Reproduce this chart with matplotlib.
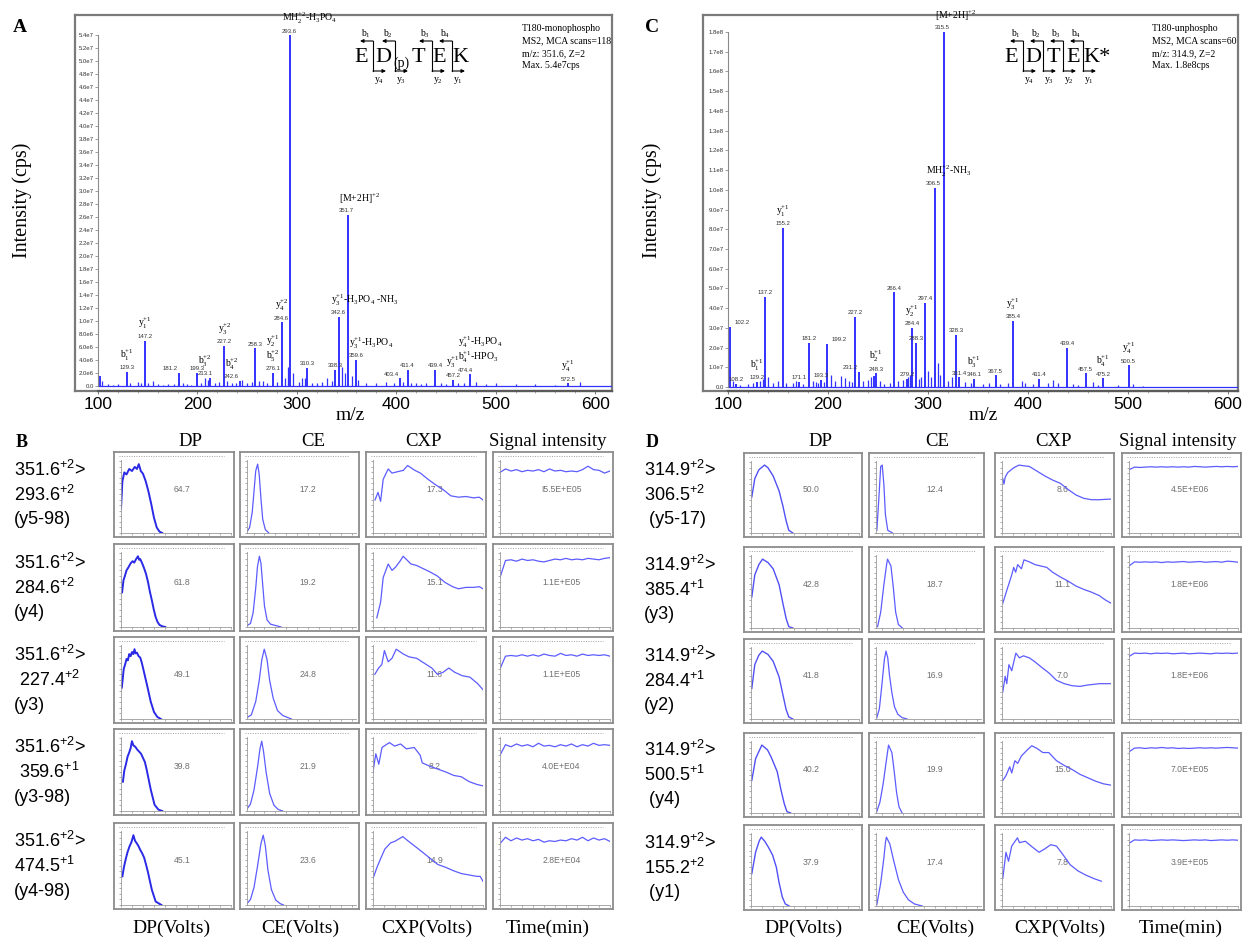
import matplotlib.pyplot as plt
from matplotlib.lines import Line2D
from matplotlib.patches import FancyArrowPatch
from matplotlib.ticker import MultipleLocator, FuncFormatter

W, H = 1242, 940
SERIF = 'Liberation Serif'
SANS = 'Liberation Sans'
PEAK = '#3232ff'

plt.rcParams['font.family'] = SANS
plt.rcParams['mathtext.fontset'] = 'custom'
plt.rcParams['mathtext.rm'] = SANS
plt.rcParams['mathtext.it'] = SANS + ':italic'
plt.rcParams['mathtext.bf'] = SANS + ':bold'
plt.rcParams['mathtext.default'] = 'regular'

# ---- MS2 spectrum of the phosphopeptide (intensity in 1e7 cps) ----
a_mz = [102.0, 129.3, 147.2, 181.2, 199.3, 213.1, 227.2, 242.6, 258.3, 276.1, 284.6, 293.6,
        310.3, 338.3, 342.6, 351.7, 359.6, 403.4, 411.4, 439.4, 457.2, 474.4, 572.5]
a_int = [0.15, 0.22, 0.70, 0.20, 0.20, 0.13, 0.62, 0.08, 0.58, 0.20, 0.98, 5.40,
         0.28, 0.25, 1.06, 2.63, 0.40, 0.12, 0.25, 0.25, 0.10, 0.18, 0.04]
a_num = ['', '129.3', '147.2', '181.2', '199.3', '213.1', '227.2', '242.6', '258.3', '276.1', '284.6', '293.6',
         '310.3', '338.3', '342.6', '351.7', '359.6', '403.4', '411.4', '439.4', '457.2', '474.4', '572.5']
a_ion = ['', 'b$_1^{+1}$', 'y$_1^{+1}$', '', '', 'b$_3^{+2}$', 'y$_3^{+2}$', 'b$_4^{+2}$', '',
         'y$_2^{+1}$\nb$_5^{+2}$', 'y$_4^{+2}$', 'MH$_2^{+2}$-H$_3$PO$_4$', '', '',
         'y$_3^{+1}$-H$_3$PO$_4$ -NH$_3$', '[M+2H]$^{+2}$', 'y$_3^{+1}$-H$_3$PO$_4$', '', '', '',
         'y$_3^{+1}$', 'y$_4^{+1}$-H$_3$PO$_4$\nb$_4^{+1}$-HPO$_3$', 'y$_4^{+1}$']
a_minor_mz = [104, 110, 115, 120, 132, 140, 143, 150, 155, 160, 165, 170, 176, 185, 190, 194, 204,
              208, 211, 218, 222, 230, 235, 239, 245, 250, 255, 262, 266, 270, 280, 288, 291, 296,
              302, 305, 308, 315, 320, 325, 330, 335, 345, 348, 355, 362, 370, 380, 390, 398, 407,
              415, 420, 425, 430, 445, 450, 462, 468, 480, 490, 500, 520, 540, 560, 585]
a_minor_int = [0.08, 0.03, 0.02, 0.03, 0.05, 0.06, 0.04, 0.05, 0.07, 0.03, 0.02, 0.03, 0.03, 0.04,
               0.03, 0.02, 0.04, 0.12, 0.10, 0.05, 0.06, 0.08, 0.04, 0.05, 0.10, 0.05, 0.06, 0.08,
               0.07, 0.05, 0.06, 0.12, 0.30, 0.20, 0.06, 0.12, 0.12, 0.04, 0.05, 0.06, 0.12, 0.08,
               0.30, 0.20, 0.15, 0.10, 0.04, 0.05, 0.06, 0.05, 0.06, 0.05, 0.04, 0.03, 0.05, 0.04,
               0.03, 0.04, 0.05, 0.06, 0.03, 0.04, 0.03, 0.03, 0.02, 0.06]

# ---- MS2 spectrum of the unphosphorylated peptide (intensity in 1e7 cps) ----
c_mz = [102.2, 108.2, 129.2, 137.2, 155.2, 171.1, 181.2, 193.3, 199.2, 227.2, 231.2, 246.2, 248.3,
        266.4, 279.2, 284.4, 288.3, 297.4, 306.5, 315.5, 328.3, 331.4, 346.1, 367.5, 385.4, 411.4,
        439.4, 457.5, 475.2, 500.5]
c_int = [3.05, 0.15, 0.25, 4.57, 8.07, 0.25, 2.23, 0.35, 2.18, 3.55, 0.76, 0.55, 0.70,
         4.80, 0.40, 3.00, 2.23, 4.26, 10.1, 18.0, 2.64, 0.50, 0.40, 0.60, 3.35, 0.40,
         2.00, 0.70, 0.45, 1.10]
c_num = ['102.2', '108.2', '129.2', '137.2', '155.2', '171.1', '181.2', '193.3', '199.2', '227.2',
         '231.2', '', '248.3', '266.4', '279.2', '284.4', '288.3', '297.4', '306.5', '315.5', '328.3',
         '331.4', '346.1', '367.5', '385.4', '411.4', '439.4', '457.5', '475.2', '500.5']
c_ion = ['', '', 'b$_1^{+1}$', '', 'y$_1^{+1}$', '', '', '', '', '', '', '', 'b$_2^{+1}$',
         '', '', 'y$_2^{+1}$', '', '', 'MH$_2^{+2}$-NH$_3$', '[M+2H]$^{+2}$', '', '', 'b$_3^{+1}$',
         '', 'y$_3^{+1}$', '', '', '', 'b$_4^{+1}$', 'y$_4^{+1}$']
c_minor_mz = [105, 112, 120, 125, 132, 135, 140, 145, 150, 158, 165, 168, 175, 185, 188, 190, 196,
              203, 207, 213, 217, 221, 224, 235, 240, 243, 252, 256, 262, 270, 275, 280, 282, 291,
              293, 300, 303, 310, 312, 320, 324, 337, 343, 355, 361, 372, 380, 394, 397, 405, 420,
              425, 430, 445, 450, 465, 470, 490, 505, 515]
c_minor_int = [0.30, 0.10, 0.15, 0.20, 0.30, 0.40, 0.50, 0.20, 0.30, 0.20, 0.20, 0.30, 0.15, 0.30,
               0.25, 0.20, 0.25, 0.60, 0.30, 0.55, 0.45, 0.30, 0.25, 0.30, 0.35, 0.50, 0.30, 0.15,
               0.20, 0.30, 0.35, 0.50, 0.60, 0.40, 0.50, 0.80, 0.50, 1.20, 0.60, 0.30, 0.50, 0.25,
               0.20, 0.15, 0.20, 0.15, 0.20, 0.30, 0.20, 0.15, 0.20, 0.35, 0.20, 0.15, 0.10, 0.25,
               0.10, 0.10, 0.15, 0.05]

# ---- parameter ramps, panel B (phospho transitions) ----
b_rows = [['351.6$^{+2}$>', '293.6$^{+2}$', '(y5-98)'],
          ['351.6$^{+2}$>', '284.6$^{+2}$', '(y4)'],
          ['351.6$^{+2}$>', ' 227.4$^{+2}$', '(y3)'],
          ['351.6$^{+2}$>', ' 359.6$^{+1}$', '(y3-98)'],
          ['351.6$^{+2}$>', '474.5$^{+1}$', '(y4-98)']]
b_dp_opt = [64.7, 61.8, 49.1, 39.8, 45.1]
b_ce_opt = [17.2, 19.2, 24.8, 21.9, 23.6]
b_cxp_opt = [17.3, 15.1, 11.6, 8.2, 14.9]
b_signal = ['I5.5E+E05', '1.1E+E05', '1.1E+E05', '4.0E+E04', '2.8E+E04']

b_dp_x = [[0, 5, 12, 20, 30, 40, 50, 58, 64.7, 72, 80, 90, 100, 110, 120, 130, 140, 150],
          [4, 9, 14, 20, 28, 35, 42, 48, 55, 61.8, 66, 70, 77, 84, 91, 98, 105, 112, 119, 126, 133, 140, 150, 161],
          [3, 10, 15, 20, 25, 30, 35, 40, 45, 49.1, 53, 58, 64, 70, 76, 82, 95, 108, 120, 132, 145],
          [7, 12, 18, 24, 30, 35, 39.8, 45, 52, 59, 66, 73, 80, 87, 94, 108, 122, 136, 150],
          [5, 11, 18, 24, 31, 38, 45.1, 51, 58, 64, 70, 77, 84, 91, 98, 112, 126, 147]]
b_dp_y = [[0.35, 0.75, 0.88, 0.85, 0.93, 0.90, 0.96, 0.93, 1.0, 0.90, 0.86, 0.75, 0.60, 0.42, 0.22, 0.08, 0.02, 0.0],
          [0.49, 0.66, 0.72, 0.80, 0.85, 0.90, 0.93, 0.91, 0.96, 1.0, 0.95, 0.96, 0.90, 0.83, 0.75, 0.64, 0.50,
           0.38, 0.25, 0.14, 0.07, 0.03, 0.01, 0.0],
          [0.45, 0.72, 0.78, 0.86, 0.84, 0.93, 0.90, 0.96, 0.93, 1.0, 0.94, 0.95, 0.90, 0.88, 0.80, 0.70, 0.48,
           0.25, 0.10, 0.03, 0.0],
          [0.42, 0.58, 0.67, 0.78, 0.84, 0.90, 1.0, 0.94, 0.92, 0.88, 0.85, 0.82, 0.76, 0.70, 0.58, 0.31, 0.09,
           0.02, 0.0],
          [0.41, 0.55, 0.67, 0.76, 0.84, 0.90, 1.0, 0.92, 0.88, 0.84, 0.79, 0.74, 0.68, 0.58, 0.47, 0.22, 0.05,
           0.0]]
b_ce_x = [[5, 8, 11, 13, 15, 17.2, 19, 21, 23, 26, 30],
          [5, 9, 12, 15, 17, 19.2, 21, 23, 25, 28, 32, 38, 44],
          [5, 10, 15, 19, 22, 24.8, 28, 31, 35, 40, 46, 52, 56],
          [5, 9, 13, 17, 20, 21.9, 24, 27, 31, 36, 41, 46],
          [5, 9, 13, 17, 21, 23.6, 26, 29, 33, 38, 43, 47]]
b_ce_y = [[0.02, 0.08, 0.30, 0.60, 0.90, 1.0, 0.85, 0.50, 0.20, 0.05, 0.0],
          [0.02, 0.05, 0.20, 0.55, 0.85, 1.0, 0.90, 0.60, 0.30, 0.10, 0.04, 0.02, 0.0],
          [0.02, 0.06, 0.25, 0.55, 0.85, 1.0, 0.85, 0.55, 0.30, 0.12, 0.05, 0.02, 0.0],
          [0.03, 0.10, 0.30, 0.62, 0.90, 1.0, 0.85, 0.55, 0.25, 0.08, 0.02, 0.0],
          [0.02, 0.08, 0.25, 0.55, 0.88, 1.0, 0.85, 0.50, 0.22, 0.07, 0.02, 0.0]]
b_cxp_x = [[1, 2.5, 3.8, 5.1, 7.6, 9.5, 12.3, 15.2, 17.3, 20.9, 23.7, 27.5, 31.3, 35.1, 38.9, 42.7, 46.5, 50.3, 53.1, 55],
           [1.9, 3.8, 5.1, 7.6, 9.5, 11.4, 13.5, 15.1, 19.0, 21.8, 24.7, 28.4, 32.2, 36.0, 39.8, 42.7, 46.5, 50.3, 53.1, 55],
           [0.9, 2.8, 4.4, 5.7, 7.6, 9.5, 11.6, 15.2, 18.0, 21.8, 25.6, 29.4, 32.2, 35.1, 37.9, 40.8, 44.6, 48.4, 52.2, 55],
           [0, 1.4, 2.9, 4.5, 8.2, 10.8, 13.8, 16.7, 20.6, 23.6, 24.6, 28.5, 32.4, 36.3, 40.3, 44.2, 48.1, 52.0, 55],
           [0, 2.0, 3.9, 5.9, 8.8, 10.8, 14.9, 17.0, 18.8, 20.6, 24.6, 28.5, 32.4, 36.3, 40.3, 44.2, 48.1, 52.0, 53.6, 55]]
b_cxp_y = [[0.48, 0.59, 0.46, 0.78, 0.93, 0.87, 0.89, 0.91, 0.98, 0.91, 0.87, 0.78, 0.70, 0.63, 0.54, 0.52, 0.53, 0.51, 0.52, 0.48],
           [0.13, 0.35, 0.70, 0.89, 0.80, 0.85, 0.93, 1.0, 0.89, 0.87, 0.83, 0.78, 0.72, 0.63, 0.57, 0.54, 0.56, 0.56, 0.57, 0.54],
           [0.64, 0.73, 0.78, 0.98, 0.82, 0.87, 1.0, 0.93, 0.89, 0.87, 0.80, 0.73, 0.64, 0.67, 0.73, 0.67, 0.62, 0.60, 0.51, 0.42],
           [0.56, 0.82, 0.67, 0.91, 0.98, 0.93, 0.96, 0.89, 0.91, 0.80, 0.69, 0.64, 0.60, 0.56, 0.51, 0.49, 0.42, 0.38, 0.36],
           [0.38, 0.54, 0.67, 0.80, 0.89, 0.91, 0.98, 0.93, 0.89, 0.85, 0.76, 0.67, 0.58, 0.54, 0.49, 0.45, 0.43, 0.41, 0.41, 0.34]]

sig_t = [0, 0.05, 0.1, 0.15, 0.2, 0.25, 0.3, 0.35, 0.4, 0.45, 0.5, 0.55, 0.6, 0.65, 0.7, 0.75, 0.8, 0.85, 0.9, 0.95, 1.0]
b_sig_y = [[0.88, 0.93, 0.90, 0.92, 0.89, 0.91, 0.90, 0.92, 0.89, 0.93, 0.90, 0.91, 0.89, 0.90, 0.89, 0.92, 0.97, 0.92, 0.91, 0.87, 0.90],
           [0.70, 0.94, 0.95, 0.93, 0.96, 0.94, 0.95, 0.93, 0.92, 0.94, 0.96, 0.95, 0.97, 0.95, 0.96, 0.95, 0.97, 0.96, 0.95, 0.97, 0.98],
           [0.72, 0.90, 0.91, 0.90, 0.92, 0.90, 0.92, 0.90, 0.93, 0.91, 0.90, 0.94, 0.91, 0.92, 0.90, 0.93, 0.91, 0.92, 0.91, 0.92, 0.90],
           [0.80, 0.95, 0.92, 0.96, 0.93, 0.95, 0.92, 0.97, 0.93, 0.94, 0.92, 0.95, 0.93, 0.96, 0.92, 0.95, 0.93, 0.97, 0.94, 0.95, 0.94],
           [0.88, 0.97, 0.92, 0.96, 0.93, 0.95, 0.92, 0.94, 0.90, 0.92, 0.91, 0.93, 0.92, 0.95, 0.93, 0.97, 0.92, 0.96, 0.93, 0.95, 0.91]]

# ---- parameter ramps, panel D (unphospho transitions) ----
d_rows = [['314.9$^{+2}$>', '306.5$^{+2}$', ' (y5-17)'],
          ['314.9$^{+2}$>', '385.4$^{+1}$', '(y3)'],
          ['314.9$^{+2}$>', '284.4$^{+1}$', '(y2)'],
          ['314.9$^{+2}$>', '500.5$^{+1}$', ' (y4)'],
          ['314.9$^{+2}$>', '155.2$^{+2}$', ' (y1)']]
d_dp_opt = [50.0, 42.8, 41.8, 40.2, 37.9]
d_ce_opt = [12.4, 18.7, 16.9, 19.9, 17.4]
d_cxp_opt = [8.6, 11.1, 7.0, 15.0, 7.8]
d_signal = ['4.5E+E06', '1.8E+E06', '1.8E+E06', '7.0E+E05', '3.9E+E05']

d_dp_x = [[3, 14, 29, 50.0, 63, 82, 104, 118, 130, 140, 155],
          [3, 14, 29, 42.8, 63, 82, 104, 118, 130, 140, 155],
          [3, 14, 29, 41.8, 63, 82, 104, 118, 130, 140, 155],
          [3, 17, 32, 40.2, 61, 75, 97, 111, 123, 133, 147],
          [3, 17, 30, 37.9, 51, 65, 80, 94, 104, 116, 127, 141]]
d_dp_y = [[0.53, 0.80, 0.93, 1.0, 0.96, 0.84, 0.62, 0.40, 0.18, 0.04, 0.0],
          [0.45, 0.77, 0.92, 1.0, 0.95, 0.86, 0.63, 0.36, 0.14, 0.02, 0.0],
          [0.45, 0.80, 0.94, 1.0, 0.95, 0.85, 0.62, 0.36, 0.14, 0.03, 0.0],
          [0.48, 0.80, 0.93, 1.0, 0.93, 0.82, 0.61, 0.34, 0.14, 0.02, 0.0],
          [0.47, 0.78, 0.94, 1.0, 0.94, 0.85, 0.74, 0.56, 0.34, 0.13, 0.03, 0.0]]
d_ce_x = [[6, 8.3, 10.6, 12.4, 14.4, 16.2, 19, 24.6],
          [6.9, 10.6, 14.4, 17.6, 18.7, 22.8, 25.6, 28.4, 31.7, 36.4],
          [6, 9, 12, 15, 16.9, 19, 21, 24, 27, 31, 36, 42],
          [5.9, 9.7, 13.5, 17.3, 19.9, 23.9, 26.7, 29.5, 32.4, 36.1],
          [6, 10.7, 14.4, 16.2, 17.4, 21.5, 26.2, 31.8, 37.5, 43.6, 50.7, 60]]
d_ce_y = [[0.04, 0.49, 0.98, 1.0, 0.71, 0.27, 0.04, 0.0],
          [0.02, 0.23, 0.63, 0.92, 1.0, 0.90, 0.59, 0.23, 0.05, 0.0],
          [0.02, 0.15, 0.50, 0.88, 1.0, 0.90, 0.65, 0.38, 0.18, 0.07, 0.02, 0.0],
          [0.02, 0.16, 0.43, 0.77, 1.0, 0.89, 0.61, 0.30, 0.09, 0.0],
          [0.02, 0.34, 0.70, 0.92, 1.0, 0.90, 0.65, 0.38, 0.20, 0.09, 0.03, 0.0]]
d_cxp_x = [[0.4, 1.0, 1.6, 2.9, 5.9, 8.6, 10.8, 13.8, 17.7, 21.6, 25.5, 29.5, 33.4, 37.3, 41.3, 45.2, 49.1, 55],
           [0.4, 2.9, 4.9, 5.9, 6.9, 7.9, 9.8, 11.1, 13.8, 16.7, 19.6, 22.6, 25.5, 29.5, 33.4, 37.3, 41.3, 45.2, 49.1, 52, 55],
           [0.4, 1.6, 2.4, 3.5, 4.9, 7.0, 8.8, 10.8, 13.8, 16.7, 19.6, 23.6, 27.5, 31.4, 35.4, 39.3, 43.2, 49.1, 55],
           [0.4, 2, 3.9, 4.9, 6.5, 7.9, 9.8, 12.8, 15.0, 17.7, 20.6, 23.6, 27.5, 31.4, 35.4, 39.3, 43.2, 47.1, 51.1, 55],
           [0.4, 2, 3.3, 4.9, 7.8, 8.8, 11.8, 14.7, 18.7, 21.6, 24.6, 27.5, 30.4, 34.4, 38.3, 42.2, 46.2, 50.1]]
d_cxp_y = [[0.80, 0.72, 0.82, 0.89, 0.96, 1.0, 0.99, 0.98, 0.91, 0.84, 0.78, 0.73, 0.64, 0.56, 0.51, 0.49, 0.49, 0.50],
           [0.36, 0.59, 0.77, 0.88, 0.81, 0.92, 0.86, 0.99, 0.96, 0.92, 0.90, 0.88, 0.81, 0.74, 0.68, 0.61, 0.56, 0.52, 0.47, 0.41, 0.36],
           [0.40, 0.63, 0.52, 0.80, 0.71, 0.97, 0.90, 0.93, 0.90, 0.84, 0.77, 0.68, 0.57, 0.52, 0.49, 0.48, 0.50, 0.52, 0.52],
           [0.48, 0.55, 0.68, 0.59, 0.77, 0.73, 0.84, 0.93, 0.99, 0.95, 0.89, 0.89, 0.77, 0.70, 0.64, 0.57, 0.52, 0.47, 0.43, 0.41],
           [0.40, 0.78, 0.65, 0.87, 0.99, 0.92, 0.94, 0.87, 0.78, 0.83, 0.89, 0.87, 0.76, 0.60, 0.51, 0.45, 0.40, 0.36]]
d_sig_y = [[0.93, 0.97, 0.965, 0.97, 0.975, 0.97, 0.975, 0.97, 0.975, 0.97, 0.975, 0.97, 0.98, 0.975, 0.97, 0.975, 0.98, 0.975, 0.98, 0.975, 0.98],
           [0.90, 0.96, 0.955, 0.96, 0.955, 0.96, 0.95, 0.96, 0.955, 0.96, 0.965, 0.955, 0.96, 0.965, 0.955, 0.96, 0.965, 0.955, 0.97, 0.965, 0.955],
           [0.92, 0.97, 0.965, 0.97, 0.96, 0.97, 0.965, 0.97, 0.96, 0.965, 0.97, 0.96, 0.965, 0.97, 0.965, 0.96, 0.97, 0.965, 0.97, 0.965, 0.97],
           [0.90, 0.955, 0.96, 0.95, 0.96, 0.955, 0.965, 0.955, 0.96, 0.95, 0.955, 0.95, 0.955, 0.96, 0.955, 0.96, 0.955, 0.96, 0.965, 0.96, 0.955],
           [0.91, 0.96, 0.955, 0.96, 0.95, 0.955, 0.96, 0.955, 0.96, 0.955, 0.95, 0.955, 0.96, 0.955, 0.96, 0.95, 0.955, 0.96, 0.955, 0.96, 0.955]]

col_heads = ['DP', 'CE', 'CXP', 'Signal intensity']
col_feet = ['DP(Volts)', 'CE(Volts)', 'CXP(Volts)', 'Time(min)']
col_range = [(0, 400), (5, 130), (0, 55), (0, 1)]

fig = plt.figure(figsize=(W / 100, H / 100), dpi=100)


def rect(x0, y0, x1, y1):
    return [x0 / W, 1 - y1 / H, (x1 - x0) / W, (y1 - y0) / H]


def ftext(x, y, s, **kw):
    return fig.text(x / W, 1 - y / H, s, **kw)


def arrow(x0, y0, x1, y1):
    fig.add_artist(FancyArrowPatch((x0 / W, 1 - y0 / H), (x1 / W, 1 - y1 / H), transform=fig.transFigure,
                                   arrowstyle='-|>', mutation_scale=5, lw=0.8, color='k',
                                   shrinkA=0, shrinkB=0))


def sci(v, pos):
    if v < 0.01:
        return '0.0'
    val = v * 1e7
    e = len(str(int(round(val)))) - 1
    return f'{val / 10 ** e:.1f}e{e}'


def spectrum(frame, box, xlim, ylim, ytop, ystep, mz, inten, nums, ions, mmz, mint, place):
    fr = fig.add_axes(rect(*frame))
    fr.set_xticks([])
    fr.set_yticks([])
    for s in fr.spines.values():
        s.set_color('#7a7a7a')
        s.set_linewidth(1.6)

    ax = fig.add_axes(rect(*box))
    ax.patch.set_visible(False)
    ax.axhline(0, color=PEAK, lw=0.9)
    ax.vlines(mmz, 0, mint, color=PEAK, lw=0.9)
    ax.vlines(mz, 0, inten, color=PEAK, lw=1.4)
    ax.set_xlim(*xlim)
    ax.set_ylim(*ylim)
    ax.spines['top'].set_visible(False)
    ax.spines['right'].set_visible(False)
    ax.spines['left'].set_color('#8a8a8a')
    ax.spines['left'].set_linewidth(0.8)
    ax.spines['left'].set_bounds(0, ytop)
    ax.spines['bottom'].set_color('#5a5a5a')
    ax.spines['bottom'].set_linewidth(1.6)
    ax.yaxis.set_major_formatter(FuncFormatter(sci))
    ax.set_yticks([t * ystep for t in range(int(round(ytop / ystep)) + 1)])
    ax.tick_params(axis='y', length=2, width=0.5, pad=1, labelsize=4.3, colors='#777', labelcolor='#333')
    ax.set_xticks([100, 200, 300, 400, 500, 600])
    ax.xaxis.set_minor_locator(MultipleLocator(20))
    ax.tick_params(axis='x', which='major', length=2.5, width=0.6, labelsize=12.5, pad=2, colors='#666',
                   labelcolor='k')
    ax.tick_params(axis='x', which='minor', length=1.5, width=0.5, colors='#888')

    for m, v, n, ion in zip(mz, inten, nums, ions):
        dx, ha = place.get(m, (0, 'center'))
        if n:
            ax.annotate(n, (m, v), xytext=(dx, 1.2), textcoords='offset points', ha=ha, va='bottom',
                        fontsize=4.3, color='#333')
        if ion:
            ax.annotate(ion, (m, v), xytext=(dx, 6.5), textcoords='offset points', ha=ha, va='bottom',
                        fontsize=7, family=SERIF, math_fontfamily='stix', linespacing=1.0)
    return ax


def peptide(letters, xs, ys, sizes, cuts, blab, ylab):
    for s, x, y, fs in zip(letters, xs, ys, sizes):
        ftext(x, y, s, fontsize=fs, family=SERIF, ha='center', va='center')
    for x, bl, yl in zip(cuts, blab, ylab):
        fig.add_artist(Line2D([x / W, x / W], [1 - 41 / H, 1 - 71 / H], color='k', lw=0.8))
        arrow(x, 41, x - 13, 41)
        arrow(x, 71, x + 13, 71)
        ftext(x - 7, 34, bl, fontsize=7, family=SERIF, math_fontfamily='stix', ha='center', va='center')
        ftext(x + 6, 80, yl, fontsize=7, family=SERIF, math_fontfamily='stix', ha='center', va='center')


def cell(box, x, y, xlim, text, color, lw):
    x0, y0, x1, y1 = box
    fr = fig.add_axes(rect(x0, y0, x1, y1))
    fr.set_xticks([])
    fr.set_yticks([])
    for s in fr.spines.values():
        s.set_color('#8c8c8c')
        s.set_linewidth(1.3)
    fr.plot([0.04, 0.92], [0.955, 0.955], transform=fr.transAxes, color='#a0a0a0', lw=0.7, ls=(0, (1, 1.5)))
    fr.text(0.57, 0.56, text, transform=fr.transAxes, ha='center', va='center', fontsize=6.2, color='#707070')

    ax = fig.add_axes(rect(x0 + 7, y0 + 8, x1 - 3, y1 - 4))
    ax.patch.set_visible(False)
    ax.plot(x, y, color=color, lw=lw)
    ax.set_xlim(*xlim)
    ax.set_ylim(0, 1.06)
    ax.spines['top'].set_visible(False)
    ax.spines['right'].set_visible(False)
    for s in ('left', 'bottom'):
        ax.spines[s].set_color('#9a9a9a')
        ax.spines[s].set_linewidth(0.6)
    ax.xaxis.set_major_locator(MultipleLocator((xlim[1] - xlim[0]) / 10))
    ax.yaxis.set_major_locator(MultipleLocator(0.08))
    ax.tick_params(length=1.5, width=0.5, colors='#8a8a8a', labelleft=False, labelbottom=False)


def ramp_panel(cols, rows, row_text, dp, ce, cxp, sig, heads_x, feet_x, label_x, dp_style):
    for i, (y0, y1) in enumerate(rows):
        series = [(dp[0][i], dp[1][i], f'{dp[2][i]:.1f}'),
                  (ce[0][i], ce[1][i], f'{ce[2][i]:.1f}'),
                  (cxp[0][i], cxp[1][i], f'{cxp[2][i]:.1f}'),
                  (sig_t, sig[0][i], sig[1][i])]
        for j, ((x0, x1), (xs, ys, txt)) in enumerate(zip(cols, series)):
            color, lw = dp_style if j == 0 else ('#5c5cff', 0.9)
            cell((x0, y0, x1, y1), xs, ys, col_range[j], txt, color, lw)
        yc = (y0 + y1) / 2
        for k, line in enumerate(row_text[i]):
            ftext(label_x, yc + (k - 1) * 25, line, fontsize=13, ha='left', va='center')
    for h, hx in zip(col_heads, heads_x):
        ftext(hx, 441, h, fontsize=13.5, family=SERIF, ha='center', va='center')
    for f, fx in zip(col_feet, feet_x):
        ftext(fx, 928, f, fontsize=14, family=SERIF, ha='center', va='center')


# Panel A
spectrum((75, 15, 612, 391), (98, 30, 612, 391), (100, 617), (-0.077, 5.48), 5.4, 0.2,
         a_mz, a_int, a_num, a_ion, a_minor_mz, a_minor_int,
         {181.2: (-6, 'center'), 213.1: (-4, 'center'), 242.6: (-6, 'center'), 403.4: (-6, 'center'),
          293.6: (-6, 'left'), 342.6: (-6, 'left'), 351.7: (-7, 'left'), 359.6: (-5, 'left'),
          474.4: (-9, 'left')})
ftext(20, 28, 'A', fontsize=14, family=SERIF, weight='bold', ha='center', va='center')
ftext(22, 200, 'Intensity (cps)', fontsize=14.5, family=SERIF, rotation=90, ha='center', va='center')
ftext(350, 416, 'm/z', fontsize=14, family=SERIF, ha='center', va='center')
ftext(522, 24, 'T180-monophospho\nMS2, MCA scans=118\nm/z: 351.6, Z=2\nMax. 5.4e7cps',
      fontsize=7, family=SERIF, ha='left', va='top', linespacing=1.5)
peptide(['E', 'D', '(p)', 'T', 'E', 'K'], [361, 383, 401, 418, 439, 460], [57, 57, 63, 57, 57, 57],
        [16, 16, 10, 16, 16, 16], [373, 395, 432, 452],
        ['b$_1$', 'b$_2$', 'b$_3$', 'b$_4$'], ['y$_4$', 'y$_3$', 'y$_2$', 'y$_1$'])

# Panel C
spectrum((703, 15, 1238, 391), (728, 30, 1238, 391), (100, 610), (-0.2, 18.1), 18, 1.0,
         c_mz, c_int, c_num, c_ion, c_minor_mz, c_minor_int,
         {102.2: (3, 'left'), 199.2: (3, 'left'), 231.2: (-1, 'right'),
          306.5: (-6, 'left'), 315.5: (-6, 'left')})
ftext(652, 28, 'C', fontsize=14, family=SERIF, weight='bold', ha='center', va='center')
ftext(652, 200, 'Intensity (cps)', fontsize=14.5, family=SERIF, rotation=90, ha='center', va='center')
ftext(983, 416, 'm/z', fontsize=14, family=SERIF, ha='center', va='center')
ftext(1152, 24, 'T180-unphospho\nMS2, MCA scans=60\nm/z: 314.9, Z=2\nMax. 1.8e8cps',
      fontsize=7, family=SERIF, ha='left', va='top', linespacing=1.5)
peptide(['E', 'D', 'T', 'E', 'K*'], [1011, 1033, 1053, 1073, 1097], [57] * 5, [16] * 5,
        [1023, 1043, 1063, 1083],
        ['b$_1$', 'b$_2$', 'b$_3$', 'b$_4$'], ['y$_4$', 'y$_3$', 'y$_2$', 'y$_1$'])

# Panel B
ramp_panel([(114, 234), (240, 359), (366, 486), (493, 613)],
           [(452, 537), (544, 631), (637, 723), (729, 815), (823, 909)],
           b_rows, (b_dp_x, b_dp_y, b_dp_opt), (b_ce_x, b_ce_y, b_ce_opt),
           (b_cxp_x, b_cxp_y, b_cxp_opt), (b_sig_y, b_signal),
           [190, 313, 423, 548], [171, 300, 427, 548], 14, ('#2a2ae6', 1.4))
ftext(22, 442, 'B', fontsize=13, family=SERIF, weight='bold', ha='center', va='center')

# Panel D
ramp_panel([(744, 862), (869, 984), (995, 1114), (1122, 1241)],
           [(453, 537), (547, 632), (639, 723), (733, 817), (825, 910)],
           d_rows, (d_dp_x, d_dp_y, d_dp_opt), (d_ce_x, d_ce_y, d_ce_opt),
           (d_cxp_x, d_cxp_y, d_cxp_opt), (d_sig_y, d_signal),
           [820, 937, 1053, 1178], [803, 935, 1060, 1181], 644, ('#5050f5', 1.0))
ftext(652, 442, 'D', fontsize=13, family=SERIF, weight='bold', ha='center', va='center')

fig.savefig('out.png', dpi=100)
